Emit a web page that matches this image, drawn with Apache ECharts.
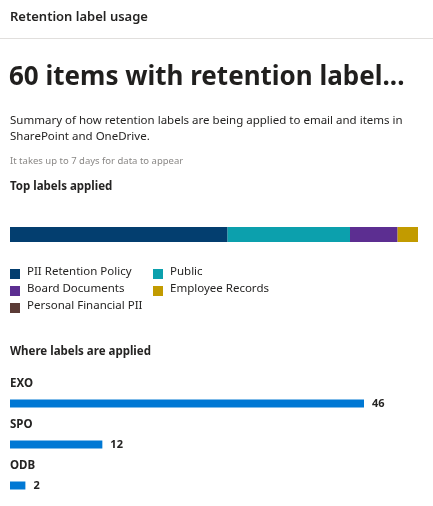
<!DOCTYPE html><html><head><meta charset="utf-8">
<script src="https://cdn.jsdelivr.net/npm/echarts@6/dist/echarts.min.js"></script>
<style>html,body{margin:0;padding:0;background:#fff}#c{width:433px;height:506px}</style></head><body><div id="c"></div>
<script>
const labelNames=['PII Retention Policy','Public','Board Documents','Employee Records','Personal Financial PII'];
const labelValues=[32,18,7,3,0];
const labelColors=['#033e6f','#0ca0ad','#5c2e91','#c29b00','#5b3b36'];
const locations=['EXO','SPO','ODB'];
const locationValues=[46,12,2];
const F='"Segoe UI","Noto Sans","Open Sans",sans-serif';
const chart=echarts.init(document.getElementById('c'));
const stack=labelNames.map((n,i)=>({type:'bar',stack:'a',name:n,data:[labelValues[i]],barWidth:15,itemStyle:{color:labelColors[i]},xAxisIndex:0,yAxisIndex:0,silent:true}));
const legPos=[[10,274],[153,274],[10,291],[153,291],[10,308]];
const g=[
 {type:'text',left:10,top:11,style:{text:'Retention label usage',font:'600 13px '+F,fill:'#252423'}},
 {type:'line',shape:{x1:0,y1:38.5,x2:433,y2:38.5},style:{stroke:'#e1dfdd',lineWidth:1}},
 {type:'text',left:9,top:65,style:{text:'60 items with retention label...',font:'bold 26px '+F,fill:'#201f1e'}},
 {type:'text',left:10,top:113,style:{text:'Summary of how retention labels are being applied to email and items in\nSharePoint and OneDrive.',font:'11.5px '+F,fill:'#252423',lineHeight:16}},
 {type:'text',left:10,top:156,style:{text:'It takes up to 7 days for data to appear',font:'9.5px '+F,fill:'#8a8886'}},
 {type:'text',left:10,top:181,style:{text:'Top labels applied',font:'bold 11.5px '+F,fill:'#252423'}},
 {type:'text',left:10,top:346,style:{text:'Where labels are applied',font:'bold 11.5px '+F,fill:'#252423'}}
];
labelNames.forEach((n,k)=>{const [x,y]=legPos[k];
 g.push({type:'rect',shape:{x:x,y:y-5,width:10,height:10},style:{fill:labelColors[k]}});
 g.push({type:'text',left:x+17,top:y-8,style:{text:n,font:'11.5px '+F,fill:'#252423'}});});
const bandTop=381,band=41;
locations.forEach((n,i)=>g.push({type:'text',left:10,top:bandTop+i*band-3,style:{text:n,font:'bold 11.5px '+F,fill:'#252423'}}));
chart.setOption({animation:false,graphic:g,
 grid:[{left:10,width:408,top:227,height:15},{left:10,width:354,top:bandTop+2,height:band*3}],
 xAxis:[{gridIndex:0,type:'value',min:0,max:60,show:false},{gridIndex:1,type:'value',min:0,max:46,show:false}],
 yAxis:[{gridIndex:0,type:'category',data:['a'],show:false},{gridIndex:1,type:'category',data:locations,inverse:true,show:false}],
 series:stack.concat([{type:'bar',xAxisIndex:1,yAxisIndex:1,data:locationValues,barWidth:8,itemStyle:{color:'#0078d4'},silent:true,
  label:{show:true,position:'right',distance:8,color:'#252423',fontWeight:'bold',fontSize:11,fontFamily:F}}])
});
</script></body></html>
